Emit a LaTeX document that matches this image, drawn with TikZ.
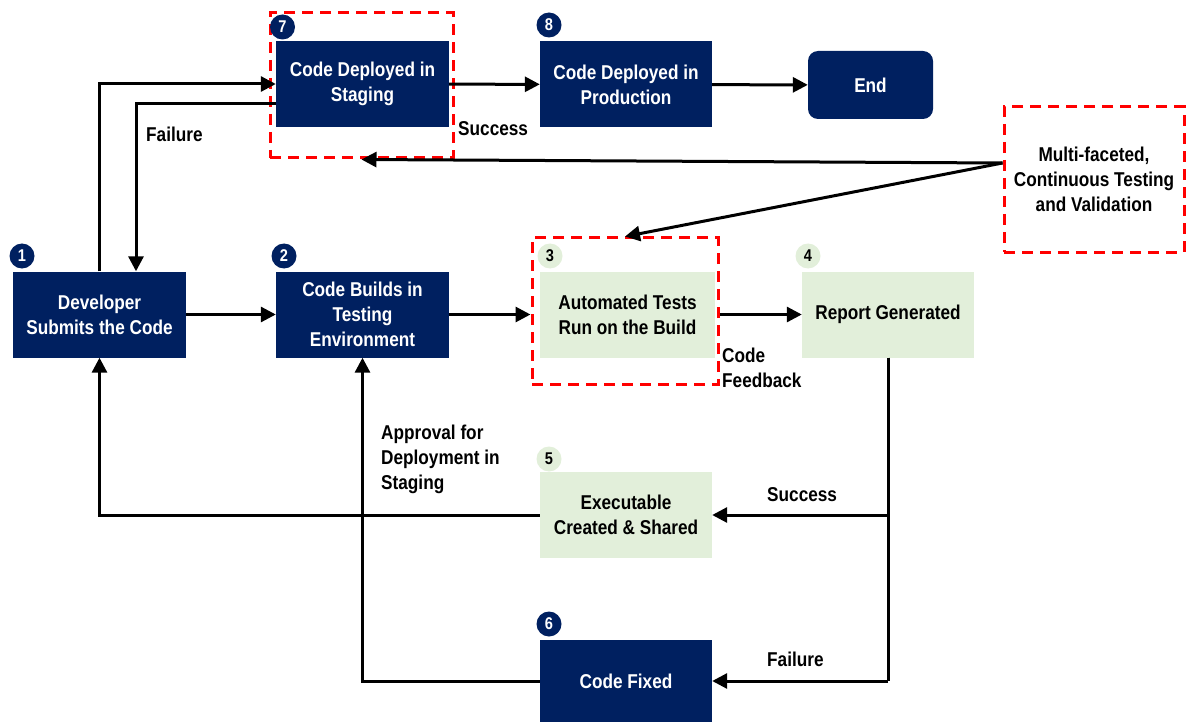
\documentclass[tikz,border=0pt]{standalone}
\usepackage{fontspec}
\setmainfont{Liberation Sans}[FakeStretch=0.86]
\usepackage{tikz}
\usetikzlibrary{arrows.meta}
\definecolor{navy}{HTML}{002060}
\definecolor{palegreen}{HTML}{E2EFDA}

\begin{document}
\begin{tikzpicture}[x=1pt,y=-1pt,
  darkbox/.style={fill=navy,text=white,font=\bfseries\fontsize{20}{25}\selectfont,align=center,minimum width=173pt,minimum height=86pt,inner sep=2pt},
  greenbox/.style={fill=palegreen,text=black,font=\bfseries\fontsize{20}{25}\selectfont,align=center,minimum width=173pt,minimum height=86pt,inner sep=2pt},
  redbox/.style={draw=red,dash pattern=on 11pt off 7pt,line width=3pt,inner sep=0pt},
  badge/.style={circle,fill=navy,text=white,font=\bfseries\fontsize{17}{17}\selectfont,minimum size=25pt,inner sep=0pt},
  gbadge/.style={badge,fill=palegreen,text=black},
  lbl/.style={anchor=west,font=\bfseries\fontsize{20}{25}\selectfont,align=left,inner sep=0pt},
  flow/.style={line width=3pt,-{Triangle[length=15pt,width=15pt]}},
  plain/.style={line width=3pt}]
\useasboundingbox (0,0) rectangle (1186,722);
%Boxes
\node [darkbox] (dev) at (99.5,314.5) {Developer\\Submits the Code};
\node [darkbox] (build) at (362.5,314.5) {Code Builds in\\Testing\\Environment};
\node [greenbox,minimum width=175pt] (auto) at (627.5,314.5) {Automated Tests\\Run on the Build};
\node [greenbox,minimum width=172pt] (report) at (888,314.5) {Report Generated};
\node [greenbox,minimum width=172pt] (exec) at (626,515) {Executable\\Created \& Shared};
\node [darkbox,minimum width=172pt,minimum height=82pt] (fixed) at (626,681) {Code Fixed};
\node [darkbox] (staging) at (362.5,84) {Code Deployed in\\Staging};
\node [darkbox,minimum width=172pt] (prod) at (626,84.5) {Code Deployed in\\Production};
\node [darkbox,minimum width=125pt,minimum height=68pt,rounded corners=10pt] (end) at (870.5,85) {End};
%Dashed frames
\node [redbox,minimum width=183pt,minimum height=145pt] (stageframe) at (361.5,85.5) {};
\node [redbox,minimum width=186pt,minimum height=146pt] (autoframe) at (625,311) {};
\node [redbox,minimum width=180pt,minimum height=145pt,font=\bfseries\fontsize{20}{25}\selectfont,align=center] (multi) at (1094,179.5) {Multi-faceted,\\Continuous Testing\\and Validation};
%Badges
\node [badge] (b1) at (22,256) {1};
\node [badge] (b2) at (284,256) {2};
\node [gbadge] (b3) at (550,256) {3};
\node [gbadge] (b4) at (808,256) {4};
\node [gbadge] (b5) at (549,459) {5};
\node [badge] (b6) at (549,624) {6};
\node [badge] (b7) at (282.5,27) {7};
\node [badge] (b8) at (549,25) {8};
%Connectors
\coordinate (mfsrc) at ([yshift=16.5pt]multi.west);
\coordinate (report-fork) at (888,681);
\draw [flow] (dev) -- (build);
\draw [flow] (build.east) -- (build.east -| autoframe.west);
\draw [flow] (auto.east -| autoframe.east) -- (report.west);
\draw [flow] (staging) -- (prod);
\draw [flow] (prod) -- (end);
\draw [flow] (dev.north) |- (staging.west);
\draw [flow] ([yshift=-20pt]staging.west) -| ([xshift=36.5pt]dev.north);
\draw [plain] (report.south) -- (report-fork);
\draw [flow] (report.south) |- (exec.east);
\draw [flow] (report-fork) -- (fixed.east);
\draw [flow] (exec.west) -| (dev.south);
\draw [flow] (fixed.west) -| (build.south);
\draw [flow] (mfsrc) -- (stageframe.south);
\draw [flow] (mfsrc) -- (autoframe.north);
%Text
\node [lbl] (lfail1) at (146,134) {Failure};
\node [lbl] (lsucc1) at (458,129) {Success};
\node [lbl] (lfeed) at (722,368) {Code\\Feedback};
\node [lbl] (lappr) at (381,459) {Approval for\\Deployment in\\Staging};
\node [lbl] (lsucc2) at (767,495) {Success};
\node [lbl] (lfail2) at (767,659) {Failure};
\end{tikzpicture}
\end{document}
